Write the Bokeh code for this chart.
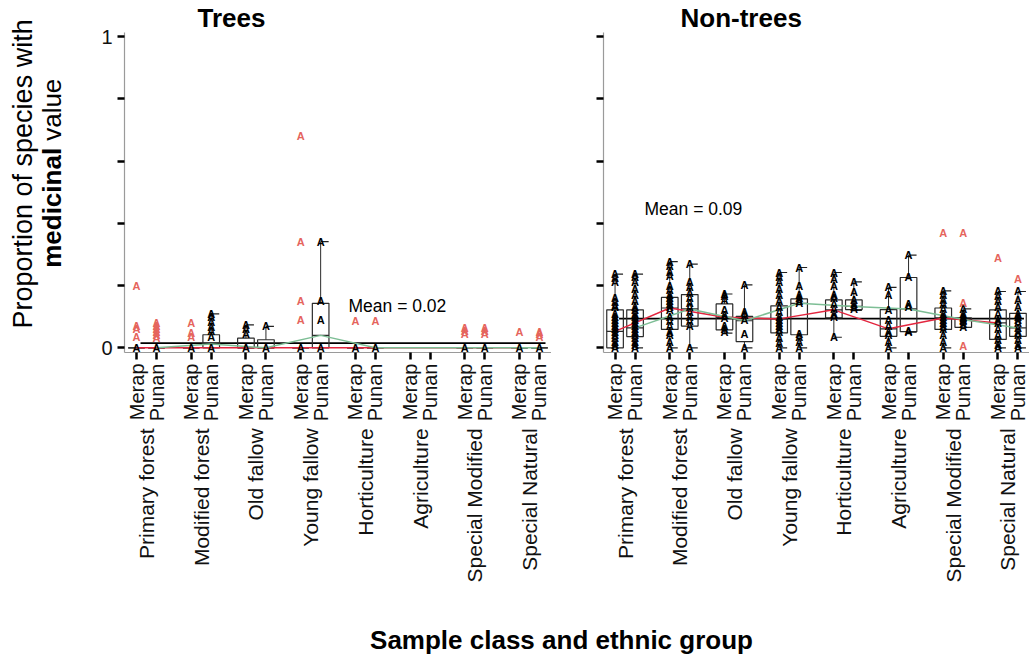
import math
from bokeh.plotting import figure
from bokeh.models import FactorRange, Range1d, FixedTicker, CustomJSTickFormatter, Label, Title
from bokeh.layouts import row, column
from bokeh.embed import file_html
from bokeh.resources import INLINE
from bokeh.core.properties import value

FONT = "Liberation Sans"

groups = ["Primary forest", "Modified forest", "Old fallow", "Young fallow",
          "Horticulture", "Agriculture", "Special Modified", "Special Natural"]
ethnic = ["Merap", "Punan"]
factors = [(g, e) for g in groups for e in ethnic]

# ---- Trees (order: group -> Merap, Punan) ----
trees_low = [0, 0, 0, 0, 0, 0, 0, 0, 0, 0, None, None, 0, 0, 0, 0]
trees_q1 = [0, 0, 0, 0, 0, 0, 0, 0, 0, 0, None, None, 0, 0, 0, 0]
trees_med = [0, 0, 0, 0.012, 0, 0, 0, 0.04, 0, 0, None, None, 0, 0, 0, 0]
trees_q3 = [0, 0, 0, 0.042, 0.031, 0.026, 0, 0.143, 0, 0, None, None, 0, 0, 0, 0]
trees_high = [0, 0, 0, 0.109, 0.074, 0.069, 0, 0.341, 0, 0, None, None, 0, 0, 0, 0]
trees_points = [[0], [0], [0], [0.109, 0.098, 0.082, 0.066, 0.055, 0.036, 0],
                [0.074, 0.061, 0.045, 0], [0.069, 0], [0], [0.341, 0.15, 0.09, 0],
                [0], [0], [], [], [0], [0], [0], [0]]
trees_outliers = [[0.20, 0.07, 0.06, 0.035], [0.08, 0.07, 0.06, 0.05, 0.04, 0.03],
                  [0.08, 0.048, 0.034], [], [], [], [0.68, 0.34, 0.15, 0.09], [],
                  [0.085], [0.085], [], [], [0.065, 0.055, 0.045], [0.065, 0.055, 0.045],
                  [0.05], [0.052, 0.045, 0.035]]
trees_mean = 0.015
trees_mean_text = "Mean = 0.02"

# ---- Non-trees ----
nt_low = [0, 0, 0, 0, 0.047, 0, 0, 0, 0.034, 0.12, 0, 0.05, 0, 0.066, 0, 0]
nt_q1 = [0, 0.036, 0.059, 0.07, 0.058, 0.02, 0.048, 0.042, 0.096, 0.123, 0.037, 0.052, 0.059, 0.066, 0.027, 0.037]
nt_med = [0.053, 0.064, 0.128, 0.125, 0.098, 0.087, 0.093, 0.143, 0.122, 0.133, 0.061, 0.125, 0.096, 0.091, 0.08, 0.064]
nt_q3 = [0.122, 0.122, 0.162, 0.171, 0.141, 0.101, 0.135, 0.157, 0.154, 0.154, 0.123, 0.226, 0.128, 0.096, 0.122, 0.111]
nt_high = [0.237, 0.237, 0.277, 0.269, 0.173, 0.202, 0.242, 0.258, 0.242, 0.212, 0.194, 0.298, 0.183, 0.125, 0.181, 0.181]
nt_points = [
    [0.237, 0.224, 0.21, 0.16, 0.146, 0.135, 0.13, 0.11, 0.1, 0.09, 0.08, 0.07, 0.06, 0.05, 0.04, 0.03, 0.02, 0.01, 0],
    [0.237, 0.227, 0.21, 0.19, 0.17, 0.15, 0.13, 0.12, 0.11, 0.1, 0.09, 0.08, 0.07, 0.06, 0.05, 0.04, 0.03, 0.02, 0.01, 0],
    [0.277, 0.262, 0.245, 0.23, 0.2, 0.185, 0.17, 0.16, 0.15, 0.14, 0.13, 0.12, 0.1, 0.085, 0.07, 0.05, 0.04, 0.02, 0],
    [0.269, 0.21, 0.195, 0.175, 0.16, 0.145, 0.13, 0.115, 0.1, 0.085, 0.07, 0],
    [0.173, 0.165, 0.155, 0.12, 0.105, 0.095, 0.07, 0.06, 0.05],
    [0.202, 0.115, 0.105, 0.09, 0.045, 0],
    [0.242, 0.228, 0.21, 0.19, 0.17, 0.15, 0.13, 0.115, 0.1, 0.09, 0.08, 0.07, 0.06, 0.05, 0.03, 0.015, 0],
    [0.258, 0.2, 0.17, 0.16, 0.15, 0.145, 0.045, 0.035, 0.02, 0],
    [0.242, 0.22, 0.2, 0.17, 0.16, 0.14, 0.125, 0.11, 0.1, 0.034],
    [0.212, 0.18, 0.155, 0.14, 0.13, 0.125],
    [0.194, 0.17, 0.12, 0.09, 0.07, 0.05, 0.04, 0.02, 0],
    [0.298, 0.226, 0.14, 0.13, 0.055, 0.05],
    [0.183, 0.17, 0.155, 0.14, 0.125, 0.11, 0.1, 0.09, 0.08, 0.07, 0.06, 0.04, 0.02, 0],
    [0.125, 0.11, 0.1, 0.095, 0.09, 0.085, 0.075, 0.068],
    [0.181, 0.165, 0.15, 0.13, 0.11, 0.09, 0.08, 0.06, 0.04, 0.025, 0.01, 0],
    [0.181, 0.155, 0.13, 0.11, 0.1, 0.09, 0.08, 0.065, 0.05, 0.04, 0.025, 0.01, 0],
]
nt_outliers = [[], [], [], [], [], [], [], [], [], [], [], [], [0.37], [0.37, 0.144, 0.005], [0.288], [0.221]]
nt_mean = 0.094
nt_mean_text = "Mean = 0.09"

y_ticks = [0, 0.2, 0.4, 0.6, 0.8, 1.0]
Y_START, Y_END = -0.015, 1.013

RED = "#E3263F"
GREEN = "#7DBE95"
OUT = "#E5645C"
PANEL_H = 610


def make_panel(low, q1, med, q3, high, pts, outs, mean, mean_text, mean_x, mean_y,
               title, title_offset, width, min_left, pad, show_labels):
    xr = FactorRange(factors=factors, factor_padding=0, group_padding=0.735,
                     range_padding=pad, range_padding_units="absolute")
    p = figure(x_range=xr, y_range=Range1d(Y_START, Y_END), width=width, height=PANEL_H,
               output_backend="svg", toolbar_location=None, title=title,
               min_border_left=min_left, min_border_right=0, min_border_top=28,
               min_border_bottom=PANEL_H - 352)
    p.title.align = "left"
    p.title.offset = title_offset
    p.title.standoff = 0
    p.title.text_font = FONT
    p.title.text_font_size = "26px"
    p.title.text_font_style = "bold"
    p.title.text_color = "black"
    p.outline_line_color = None
    p.xgrid.visible = False
    p.ygrid.visible = False

    idx = [i for i in range(len(factors)) if med[i] is not None]
    fx = [factors[i] for i in idx]

    # mean line
    p.segment(x0=[factors[0] + (0.2,)], x1=[factors[-1] + (0.3,)], y0=[mean], y1=[mean],
              line_color="black", line_width=1.8)

    # boxes
    p.vbar(x=fx, bottom=[q1[i] for i in idx], top=[q3[i] for i in idx], width=0.83,
           fill_color=None, line_color="#2b2b2b", line_width=1.2)
    p.segment(x0=[factors[i] + (-0.415,) for i in idx], x1=[factors[i] + (0.415,) for i in idx],
              y0=[med[i] for i in idx], y1=[med[i] for i in idx],
              line_color="#2b2b2b", line_width=1.2)
    # whiskers
    p.segment(x0=fx, x1=fx, y0=[q3[i] for i in idx], y1=[high[i] for i in idx],
              line_color="#2b2b2b", line_width=1)
    p.segment(x0=fx, x1=fx, y0=[low[i] for i in idx], y1=[q1[i] for i in idx],
              line_color="#2b2b2b", line_width=1)
    ci = [i for i in idx if high[i] > q3[i]]
    cj = [i for i in idx if low[i] < q1[i]]
    p.segment(x0=[factors[i] + (0.0,) for i in ci + cj], x1=[factors[i] + (0.4,) for i in ci + cj],
              y0=[high[i] for i in ci] + [low[i] for i in cj],
              y1=[high[i] for i in ci] + [low[i] for i in cj],
              line_color="#222222", line_width=1.2)

    # median lines per ethnic group
    for eth, col in (("Merap", RED), ("Punan", GREEN)):
        lx = [factors[i] for i in idx if factors[i][1] == eth]
        ly = [med[i] for i in idx if factors[i][1] == eth]
        p.line(x=lx, y=ly, line_color=col, line_width=1.5)

    # points
    px, py = [], []
    for i, vals in enumerate(pts):
        for v in vals:
            px.append(factors[i]); py.append(v)
    p.text(x=px, y=py, text=value("A"), text_font=value(FONT), text_font_size="11px",
           text_font_style="bold", text_align="center", text_baseline="middle",
           text_color="black")
    ox, oy = [], []
    for i, vals in enumerate(outs):
        for v in vals:
            ox.append(factors[i]); oy.append(v)
    p.text(x=ox, y=oy, text=value("A"), text_font=value(FONT), text_font_size="11px",
           text_font_style="bold", text_align="center", text_baseline="middle",
           text_color=OUT)

    p.add_layout(Label(x=mean_x, x_units="screen", y=mean_y, y_units="data", text=mean_text,
                       text_font=FONT, text_font_size="17.5px", text_align="left",
                       text_baseline="middle", text_color="black"))

    xa = p.xaxis[0]
    xa.major_label_orientation = math.pi / 2
    xa.group_label_orientation = math.pi / 2
    xa.major_label_text_font = FONT
    xa.major_label_text_font_size = "20px"
    xa.major_label_text_color = "#111111"
    xa.major_label_standoff = 4
    xa.group_text_font = FONT
    xa.group_text_font_size = "21px"
    xa.group_text_font_style = "normal"
    xa.group_text_color = "#111111"
    xa.separator_line_color = None
    xa.axis_line_color = "#9a9a9a"
    xa.axis_line_width = 1.2
    xa.major_tick_line_color = "black"
    xa.major_tick_line_width = 2.5
    xa.major_tick_out = 7
    xa.major_tick_in = 0

    ya = p.yaxis[0]
    ya.ticker = FixedTicker(ticks=y_ticks)
    if show_labels:
        ya.formatter = CustomJSTickFormatter(code="return (tick == 0 || tick == 1) ? String(Math.round(tick)) : '';")
    else:
        ya.formatter = CustomJSTickFormatter(code="return '';")
    ya.major_label_text_font = FONT
    ya.major_label_text_font_size = "20px"
    ya.major_label_text_color = "#111111"
    ya.axis_line_color = "#9a9a9a"
    ya.axis_line_width = 1.2
    ya.major_tick_line_color = "black"
    ya.major_tick_line_width = 2.5
    ya.major_tick_out = 7
    ya.major_tick_in = 0
    ya.minor_tick_line_color = None
    return p


p1 = make_panel(trees_low, trees_q1, trees_med, trees_q3, trees_high, trees_points,
                trees_outliers, trees_mean, trees_mean_text, 224, 0.135,
                "Trees", 73, 473, 46, 0.1, True)
p2 = make_panel(nt_low, nt_q1, nt_med, nt_q3, nt_high, nt_points, nt_outliers,
                nt_mean, nt_mean_text, 41, 0.446,
                "Non-trees", 77, 478, 52, 0.0775, False)

# y-axis title panel: first line as a side title, second line as text in the frame
P0_LEFT = 37
p0 = figure(width=78, height=PANEL_H, output_backend="svg", toolbar_location=None,
            x_range=Range1d(P0_LEFT, 78), y_range=Range1d(Y_START, Y_END),
            x_axis_location=None, y_axis_location=None, min_border=0,
            min_border_left=P0_LEFT, min_border_top=28, min_border_bottom=PANEL_H - 352)
p0.outline_line_color = None
p0.grid.visible = False
p0.add_layout(Title(text="Proportion of species with", align="left", offset=24,
                    standoff=0, text_font=FONT, text_font_size="27px",
                    text_font_style="normal", text_color="black"), "left")
p0.text(x=[51], y=[0.257], text=["medicinal"], angle=math.pi / 2,
        text_font=value(FONT), text_font_size="26px", text_font_style="bold",
        text_align="left", text_baseline="middle", text_color="black")
p0.text(x=[51], y=[0.665], text=["value"], angle=math.pi / 2,
        text_font=value(FONT), text_font_size="26px",
        text_align="left", text_baseline="middle", text_color="black")

# x-axis title panel
H3 = 658 - PANEL_H
p3 = figure(width=1029, height=H3, output_backend="svg", toolbar_location=None,
            x_range=Range1d(0, 1029), y_range=Range1d(0, H3),
            x_axis_location=None, y_axis_location=None, min_border=0)
p3.outline_line_color = None
p3.grid.visible = False
p3.text(x=[561], y=[H3 - 29], text=["Sample class and ethnic group"],
        text_font=value(FONT), text_font_size="26px", text_font_style="bold",
        text_align="center", text_baseline="middle", text_color="black")

layout = column(row(p0, p1, p2), p3)
open("out.html", "w").write(file_html(layout, INLINE))
